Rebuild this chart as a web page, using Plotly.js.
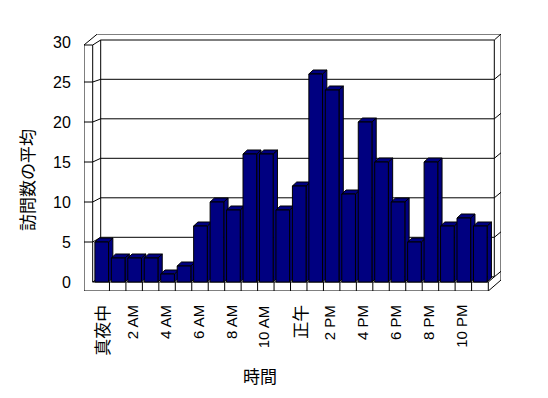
<!DOCTYPE html>
<html><head><meta charset="utf-8">
<script src="https://cdn.plot.ly/plotly-3.0.1.min.js"></script>
<style>html,body{margin:0;padding:0;background:#fff}</style>
</head><body><div id="chart" style="width:548px;height:398px"></div>
<script>
// ---- data ----
const hours = [0,1,2,3,4,5,6,7,8,9,10,11,12,13,14,15,16,17,18,19,20,21,22,23];
const visits = [5,3,3,3,1,2,7,10,9,16,16,9,12,26,24,11,20,15,10,5,15,7,8,7];
const tickPositions = [0,2,4,6,8,10,12,14,16,18,20,22];
const tickLabels = ['真夜中','2 AM','4 AM','6 AM','8 AM','10 AM','正午','2 PM','4 PM','6 PM','8 PM','10 PM'];
const yTicks = [0,5,10,15,20,25,30];
const gridLevels = [0,5,10,15,20,25];
const yTitle = '訪問数の平均';
const xTitle = '時間';

// ---- geometry (pixels of the 3D frame) ----
const W = 548, H = 398;
const L = 84, R = 501, T = 34, B = 291;
const X0 = 93, CW = 16.46, Y0 = 282, YS = 8;
const dxp = px => (px - X0) / CW - 0.5;
const dyp = py => (Y0 - py) / YS;
const backY = v => 276.8 - 7.9 * v;
const frontY = v => Y0 - YS * v;

function pathPx(pts, close) {
  return pts.map((p, i) => (i ? 'L' : 'M') + dxp(p[0]).toFixed(4) + ',' + dyp(p[1]).toFixed(4)).join(' ') + (close ? ' Z' : '');
}
function pathData(pts, close) {
  return pts.map((p, i) => (i ? 'L' : 'M') + p[0].toFixed(4) + ',' + p[1].toFixed(4)).join(' ') + (close ? ' Z' : '');
}
const lineStyle = {color: '#000', width: 1};
const shapes = [];
function addPx(pts, close, fill) {
  shapes.push({type: 'path', xref: 'x', yref: 'y', layer: 'below', path: pathPx(pts, close),
    line: lineStyle, fillcolor: fill || 'rgba(0,0,0,0)'});
}
addPx([[L, B], [L, 45], [97.3, T], [R, T], [R, 280], [488.3, B]], true, '#fff');
addPx([[92.7, 45], [92.7, Y0]]);
addPx([[L, 45], [92.7, 45], [100.7, 40]]);
addPx([[100.7, backY(0)], [100.7, 40], [494.3, 40], [494.3, backY(0)]]);
addPx([[494.3, 40], [R, T]]);
addPx([[92.7, Y0], [488.3, Y0], [494.3, backY(0)]]);
addPx([[488.3, Y0], [488.3, B]]);
for (let k = 1; k < hours.length; k++) {
  const x = X0 + CW * k;
  addPx([[x, Y0], [x, B]]);
}
gridLevels.forEach(v => {
  const yf = frontY(v), yb = backY(v);
  const pts = v === 0 ? [[92.7, yf], [100.7, yb], [494.3, yb], [R, yb - 5.5]]
                      : [[L, yf], [92.7, yf], [100.7, yb], [494.3, yb], [R, yb - 5.5]];
  addPx(pts);
});

// bar 3D faces (top & side), drawn from the data
const barW = 0.83, barShift = 0.03;
const ddx = 4.3 / CW, ddy = 4 / YS;
hours.forEach((h, i) => {
  const v = visits[i];
  const xl = h + barShift - barW / 2, xr = h + barShift + barW / 2;
  shapes.push({type: 'path', xref: 'x', yref: 'y', layer: 'below', line: lineStyle, fillcolor: '#000080',
    path: pathData([[xr, 0], [xr, v], [xr + ddx, v + ddy], [xr + ddx, ddy]], true)});
  shapes.push({type: 'path', xref: 'x', yref: 'y', layer: 'below', line: lineStyle, fillcolor: '#000080',
    path: pathData([[xl, v], [xr, v], [xr + ddx, v + ddy], [xl + ddx, v + ddy]], true)});
});

const fontFam = '"Liberation Sans", Arial, sans-serif';
const cjkFam = '"Noto Sans CJK JP", sans-serif';
const isCJK = t => /[^\x00-\x7F]/.test(t);

const trace = {
  type: 'bar',
  x: hours.map(h => h + barShift),
  y: visits,
  width: barW,
  marker: {color: '#000080', line: {color: '#000', width: 1}},
  hoverinfo: 'skip'
};

const tickAnns = tickPositions.map((p, i) => ({
  text: tickLabels[i], xref: 'x', yref: 'paper', x: p, y: (B - 303) / (B - T),
  xanchor: 'center', yanchor: 'top', textangle: -90, showarrow: false, xshift: isCJK(tickLabels[i]) ? 0 : -2,
  font: isCJK(tickLabels[i]) ? {size: 17, family: cjkFam, color: '#000'} : {size: 15, family: fontFam, color: '#000'}
}));

const layout = {
  width: W, height: H,
  margin: {l: L, r: W - R, t: T, b: H - B, autoexpand: false},
  paper_bgcolor: '#fff', plot_bgcolor: 'rgba(0,0,0,0)',
  showlegend: false,
  font: {family: fontFam, color: '#000'},
  xaxis: {
    range: [dxp(L), dxp(R)], tickmode: 'array', tickvals: tickPositions, showticklabels: false,
    showgrid: false, zeroline: false, showline: false, ticks: '', fixedrange: true
  },
  yaxis: {
    range: [dyp(B), dyp(T)], tickmode: 'array', tickvals: yTicks,
    showgrid: false, zeroline: false, showline: false,
    ticks: 'outside', ticklen: 9, tickcolor: 'rgba(0,0,0,0)',
    tickfont: {size: 16, color: '#000', family: fontFam}, fixedrange: true
  },
  shapes: shapes,
  annotations: tickAnns.concat([
    {text: yTitle, xref: 'paper', yref: 'paper', x: (26 - L) / (R - L), y: (B - 180) / (B - T),
     xanchor: 'center', yanchor: 'middle', textangle: -90, showarrow: false,
     font: {size: 17, family: cjkFam, color: '#000'}},
    {text: xTitle, xref: 'paper', yref: 'paper', x: (260 - L) / (R - L), y: (B - 375) / (B - T),
     xanchor: 'center', yanchor: 'middle', showarrow: false,
     font: {size: 17, family: cjkFam, color: '#000'}}
  ])
};

Plotly.newPlot('chart', [trace], layout, {staticPlot: true, displayModeBar: false});
</script>
</body></html>
